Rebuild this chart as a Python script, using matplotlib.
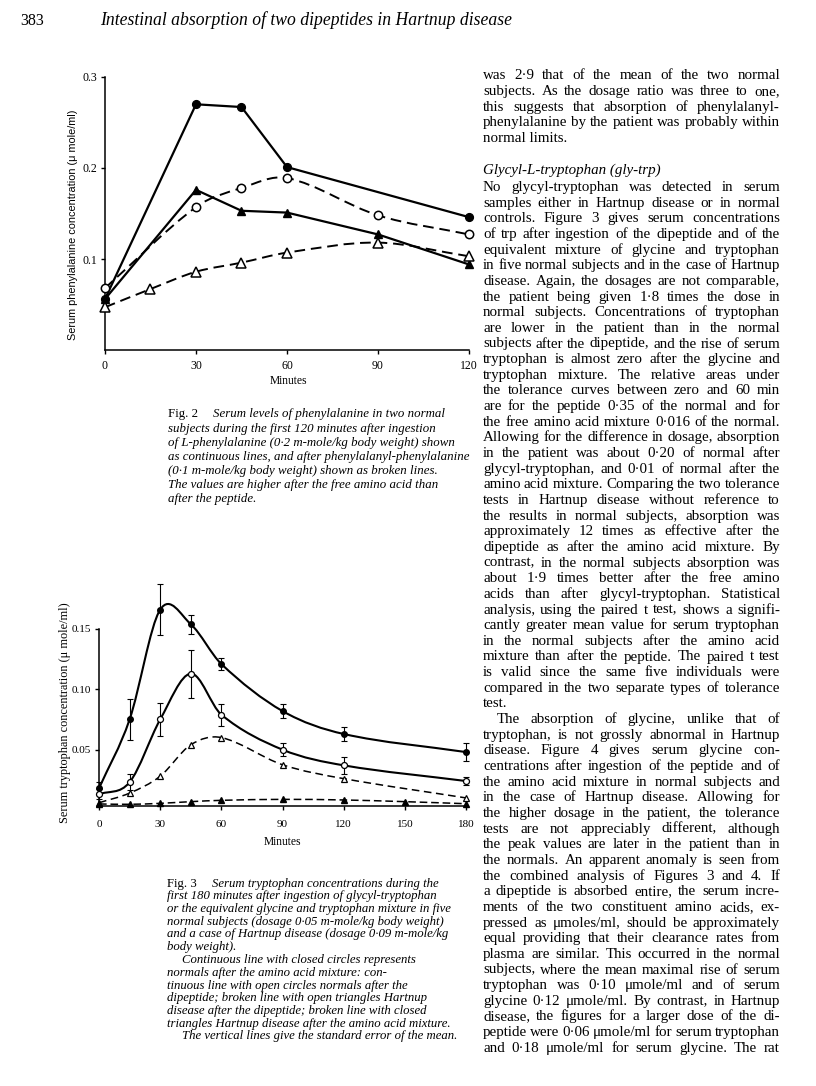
import matplotlib
matplotlib.use("Agg")
import matplotlib.pyplot as plt
from matplotlib.path import Path
from matplotlib.patches import PathPatch
from matplotlib.font_manager import FontProperties
import numpy as np

# ------------------------------------------------------------------ data
# Fig. 2  serum phenylalanine (umole/ml) vs minutes
phe_xticks = [0, 30, 60, 90, 120]
phe_yticks = [0.1, 0.2, 0.3]
phe_closed_circle_x = [0, 30, 45, 60, 120]
phe_closed_circle_y = [0.056, 0.270, 0.267, 0.201, 0.146]
phe_open_circle_x = [0, 30, 45, 60, 90, 120]
phe_open_circle_y = [0.068, 0.157, 0.178, 0.189, 0.148, 0.127]
phe_closed_tri_x = [0, 30, 45, 60, 90, 120]
phe_closed_tri_y = [0.056, 0.176, 0.153, 0.151, 0.127, 0.094]
phe_open_tri_x = [0, 15, 30, 45, 60, 90, 120]
phe_open_tri_y = [0.047, 0.067, 0.086, 0.096, 0.107, 0.118, 0.103]

# Fig. 3  serum tryptophan (umole/ml) vs minutes
trp_xticks = [0, 30, 60, 90, 120, 150, 180]
trp_yticks = [0.05, 0.10, 0.15]
trp_ytick_labels = ["0.05", "0.10", "0.15"]
trp_x = [0, 15, 30, 45, 60, 90, 120, 180]
trp_normal_aa = [0.018, 0.075, 0.166, 0.154, 0.121, 0.082, 0.063, 0.048]
trp_normal_aa_se = [0.005, 0.017, 0.021, 0.008, 0.005, 0.006, 0.0055, 0.0075]
trp_normal_pep = [0.013, 0.023, 0.075, 0.113, 0.079, 0.050, 0.037, 0.024]
trp_normal_pep_se = [0.004, 0.0065, 0.014, 0.020, 0.009, 0.0055, 0.007, 0.0035]
trp_hartnup_pep = [0.006, 0.014, 0.028, 0.054, 0.060, 0.0375, 0.026, 0.010]
trp_hartnup_aa_x = [0, 15, 30, 45, 60, 90, 120, 150, 180]
trp_hartnup_aa = [0.005, 0.0047, 0.0055, 0.0069, 0.008, 0.0088, 0.0083, 0.0069, 0.0052]

# ------------------------------------------------------------------ texts
header_num = "383"
header_title = "Intestinal absorption of two dipeptides in Hartnup disease"

phe_ylabel = "Serum phenylalanine concentration (\u03bc mole/ml)"
trp_ylabel = "Serum tryptophan concentration (\u03bc mole/ml)"
xlabel = "Minutes"

fig2_caption = [
    "Serum levels of phenylalanine in two normal",
    "subjects during the first 120 minutes after ingestion",
    "of L-phenylalanine (0\u00b72 m-mole/kg body weight) shown",
    "as continuous lines, and after phenylalanyl-phenylalanine",
    "(0\u00b71 m-mole/kg body weight) shown as broken lines.",
    "The values are higher after the free amino acid than",
    "after the peptide.",
]
fig3_caption = [
    "Serum tryptophan concentrations during the",
    "first 180 minutes after ingestion of glycyl-tryptophan",
    "or the equivalent glycine and tryptophan mixture in five",
    "normal subjects (dosage 0\u00b705 m-mole/kg body weight)",
    "and a case of Hartnup disease (dosage 0\u00b709 m-mole/kg",
    "body weight).",
    "Continuous line with closed circles represents",
    "normals after the amino acid mixture: con-",
    "tinuous line with open circles normals after the",
    "dipeptide; broken line with open triangles Hartnup",
    "disease after the dipeptide; broken line with closed",
    "triangles Hartnup disease after the amino acid mixture.",
    "The vertical lines give the standard error of the mean.",
]
fig3_indented = [6, 12]

body_top = [
    "was 2\u00b79 that of the mean of the two normal",
    "subjects. As the dosage ratio was three to one,",
    "this suggests that absorption of phenylalanyl-",
    "phenylalanine by the patient was probably within",
    "normal limits.",
]
body_heading = "Glycyl-L-tryptophan (gly-trp)"
body_main = [
    "No glycyl-tryptophan was detected in serum",
    "samples either in Hartnup disease or in normal",
    "controls. Figure 3 gives serum concentrations",
    "of trp after ingestion of the dipeptide and of the",
    "equivalent mixture of glycine and tryptophan",
    "in five normal subjects and in the case of Hartnup",
    "disease. Again, the dosages are not comparable,",
    "the patient being given 1\u00b78 times the dose in",
    "normal subjects. Concentrations of tryptophan",
    "are lower in the patient than in the normal",
    "subjects after the dipeptide, and the rise of serum",
    "tryptophan is almost zero after the glycine and",
    "tryptophan mixture. The relative areas under",
    "the tolerance curves between zero and 60 min",
    "are for the peptide 0\u00b735 of the normal and for",
    "the free amino acid mixture 0\u00b7016 of the normal.",
    "Allowing for the difference in dosage, absorption",
    "in the patient was about 0\u00b720 of normal after",
    "glycyl-tryptophan, and 0\u00b701 of normal after the",
    "amino acid mixture. Comparing the two tolerance",
    "tests in Hartnup disease without reference to",
    "the results in normal subjects, absorption was",
    "approximately 12 times as effective after the",
    "dipeptide as after the amino acid mixture. By",
    "contrast, in the normal subjects absorption was",
    "about 1\u00b79 times better after the free amino",
    "acids than after glycyl-tryptophan. Statistical",
    "analysis, using the paired t test, shows a signifi-",
    "cantly greater mean value for serum tryptophan",
    "in the normal subjects after the amino acid",
    "mixture than after the peptide. The paired t test",
    "is valid since the same five individuals were",
    "compared in the two separate types of tolerance",
    "test.",
    "The absorption of glycine, unlike that of",
    "tryptophan, is not grossly abnormal in Hartnup",
    "disease. Figure 4 gives serum glycine con-",
    "centrations after ingestion of the peptide and of",
    "the amino acid mixture in normal subjects and",
    "in the case of Hartnup disease. Allowing for",
    "the higher dosage in the patient, the tolerance",
    "tests are not appreciably different, although",
    "the peak values are later in the patient than in",
    "the normals. An apparent anomaly is seen from",
    "the combined analysis of Figures 3 and 4. If",
    "a dipeptide is absorbed entire, the serum incre-",
    "ments of the two constituent amino acids, ex-",
    "pressed as \u03bcmoles/ml, should be approximately",
    "equal providing that their clearance rates from",
    "plasma are similar. This occurred in the normal",
    "subjects, where the mean maximal rise of serum",
    "tryptophan was 0\u00b710 \u03bcmole/ml and of serum",
    "glycine 0\u00b712 \u03bcmole/ml. By contrast, in Hartnup",
    "disease, the figures for a larger dose of the di-",
    "peptide were 0\u00b706 \u03bcmole/ml for serum tryptophan",
    "and 0\u00b718 \u03bcmole/ml for serum glycine. The rat",
]
body_main_ragged = [33]      # "test."
body_main_indent = [34]      # "The absorption ..."

# ------------------------------------------------------------------ figure
W, H = 816, 1086
fig = plt.figure(figsize=(W / 100, H / 100), dpi=100)
fig.patch.set_facecolor("white")
renderer = fig.canvas.get_renderer()

SERIF = "Liberation Serif"
SANS = "Liberation Sans"


def fx(x):
    return x / W


def fy(y):
    return 1 - y / H


def fp_(family=SERIF, size=10, style="normal"):
    return FontProperties(family=family, size=size, style=style)


def tw(s, fp):
    return renderer.get_text_width_height_descent(s, fp, ismath=False)[0]


def fit_size(s, target, family=SERIF, style="normal"):
    w = tw(s, fp_(family, 10, style))
    return 10 * target / w


def smooth_path(x, y):
    x = np.asarray(x, float)
    y = np.asarray(y, float)
    n = len(x)
    m = np.empty(n)
    m[0] = (y[1] - y[0]) / (x[1] - x[0])
    m[-1] = (y[-1] - y[-2]) / (x[-1] - x[-2])
    for i in range(1, n - 1):
        m[i] = (y[i + 1] - y[i - 1]) / (x[i + 1] - x[i - 1])
    verts = [(x[0], y[0])]
    codes = [Path.MOVETO]
    for i in range(n - 1):
        h = x[i + 1] - x[i]
        verts += [(x[i] + h / 3, y[i] + m[i] * h / 3),
                  (x[i + 1] - h / 3, y[i + 1] - m[i + 1] * h / 3),
                  (x[i + 1], y[i + 1])]
        codes += [Path.CURVE4] * 3
    return Path(verts, codes)


def add_curve(ax, x, y, lw, ls):
    patch = PathPatch(smooth_path(x, y), fill=False, edgecolor="black",
                      lw=lw, linestyle=ls, transform=ax.transData,
                      clip_on=False, zorder=2, capstyle="butt")
    ax.add_patch(patch)


def style_axes(ax, fs):
    for s in ("top", "right"):
        ax.spines[s].set_visible(False)
    for s in ("left", "bottom"):
        ax.spines[s].set_linewidth(1.1)
    ax.tick_params(direction="out", length=3, width=1.0, pad=2.5,
                   labelsize=fs)
    for lab in ax.get_xticklabels() + ax.get_yticklabels():
        lab.set_fontfamily(SERIF)
    ax.set_facecolor("none")


# ---------------- Fig. 2 axes
ax1 = fig.add_axes([fx(105), fy(350), 364 / W, 273 / H])
ax1.set_xlim(0, 120)
ax1.set_ylim(0, 0.3)
ax1.set_xticks(phe_xticks)
ax1.set_yticks(phe_yticks)
ax1.set_yticklabels([f"{v:.1f}" for v in phe_yticks])
style_axes(ax1, 8.5)
ax1.tick_params(axis="x", pad=4)

ax1.plot(phe_closed_circle_x, phe_closed_circle_y, color="black", lw=1.6,
         marker="o", ms=5.6, mfc="black", mec="black", clip_on=False, zorder=3)
ax1.plot(phe_closed_tri_x, phe_closed_tri_y, color="black", lw=1.6,
         marker="^", ms=6.2, mfc="black", mec="black", clip_on=False, zorder=3)
add_curve(ax1, phe_open_circle_x, phe_open_circle_y, 1.4, (0, (5.5, 3)))
add_curve(ax1, phe_open_tri_x, phe_open_tri_y, 1.4, (0, (5.5, 3)))
ax1.plot(phe_open_circle_x, phe_open_circle_y, ls="none", marker="o", ms=6,
         mfc="white", mec="black", mew=1.1, clip_on=False, zorder=4)
ax1.plot(phe_open_tri_x, phe_open_tri_y, ls="none", marker="^", ms=6.8,
         mfc="white", mec="black", mew=1.1, clip_on=False, zorder=4)

fig.text(fx(288), fy(381), xlabel, family=SERIF, size=8.3,
         ha="center", va="center")
s = fit_size(phe_ylabel, 230, SANS)
fig.text(fx(73), fy(225), phe_ylabel, family=SANS, size=s, rotation=90,
         ha="center", va="center")

# ---------------- Fig. 3 axes
ybot = 0.0033
ax2 = fig.add_axes([fx(99), fy(806), 367 / W, 177 / H])
ax2.set_xlim(0, 180)
ax2.set_ylim(ybot, 0.15)
ax2.set_xticks(trp_xticks)
ax2.set_yticks(trp_yticks)
ax2.set_yticklabels(trp_ytick_labels)
style_axes(ax2, 8.0)
ax2.tick_params(axis="x", pad=7)

add_curve(ax2, trp_x, trp_normal_aa, 1.5, "-")
add_curve(ax2, trp_x, trp_normal_pep, 1.5, "-")
add_curve(ax2, trp_x, trp_hartnup_pep, 1.1, (0, (5, 3)))
add_curve(ax2, trp_hartnup_aa_x, trp_hartnup_aa, 1.1, (0, (5, 2.5)))

for yv, se in ((trp_normal_aa, trp_normal_aa_se),
               (trp_normal_pep, trp_normal_pep_se)):
    eb = ax2.errorbar(trp_x, yv, yerr=se, fmt="none", ecolor="black",
                      elinewidth=0.8, capsize=2.4, capthick=0.8, zorder=3)
    for a in eb.get_children():
        a.set_clip_on(False)

ax2.plot(trp_x, trp_normal_aa, ls="none", marker="o", ms=4.0, mfc="black",
         mec="black", clip_on=False, zorder=5)
ax2.plot(trp_x, trp_normal_pep, ls="none", marker="o", ms=4.3, mfc="white",
         mec="black", mew=0.9, clip_on=False, zorder=5)
ax2.plot(trp_x, trp_hartnup_pep, ls="none", marker="^", ms=4.6, mfc="white",
         mec="black", mew=0.9, clip_on=False, zorder=5)
ax2.plot(trp_hartnup_aa_x, trp_hartnup_aa, ls="none", marker="^", ms=4.6,
         mfc="black", mec="black", clip_on=False, zorder=5)

fig.text(fx(282), fy(842), xlabel, family=SERIF, size=8.3,
         ha="center", va="center")
s = fit_size(trp_ylabel, 220, SERIF)
fig.text(fx(65), fy(713), trp_ylabel, family=SERIF, size=s, rotation=90,
         ha="center", va="center")

# ---------------- header
fig.text(fx(20), fy(25), header_num, family=SERIF, size=11.5,
         ha="left", va="baseline")
s = fit_size(header_title, 412, SERIF, "italic")
fig.text(fx(100), fy(25), header_title, family=SERIF, size=s, style="italic",
         ha="left", va="baseline")

# ---------------- captions
cap_size2 = fit_size(fig2_caption[1], 268, SERIF, "italic")
for i, line in enumerate(fig2_caption):
    yb = 414 + 14.1 * i + 3.5
    if i == 0:
        fig.text(fx(168), fy(yb), "Fig. 2", family=SERIF, size=cap_size2,
                 ha="left", va="baseline")
        x0 = 213
    else:
        x0 = 168
    fig.text(fx(x0), fy(yb), line, family=SERIF, size=cap_size2,
             style="italic", ha="left", va="baseline")

cap_size3 = fit_size(fig3_caption[2], 286, SERIF, "italic")
for i, line in enumerate(fig3_caption):
    yb = 883 + 12.75 * i + 3.5
    if i == 0:
        fig.text(fx(167), fy(yb), "Fig. 3", family=SERIF, size=cap_size3,
                 ha="left", va="baseline")
        x0 = 212
    elif i in fig3_indented:
        x0 = 182
    else:
        x0 = 167
    fig.text(fx(x0), fy(yb), line, family=SERIF, size=cap_size3,
             style="italic", ha="left", va="baseline")

# ---------------- body text (justified column)
COL0, COL1 = 483, 780


def natural_width(line, fp):
    words = line.split()
    return sum(tw(w, fp) for w in words) + (len(words) - 1) * tw(" ", fp) * 0.85


fp10 = fp_(SERIF, 10)
maxw = max(natural_width(l, fp10) for l in body_top[:-1] + body_main)
body_size = 10 * (COL1 - COL0) / maxw
body_fp = fp_(SERIF, body_size)


def put_line(line, yb, fp, justify, indent=0):
    if not justify:
        fig.text(fx(COL0 + indent), fy(yb), line, fontproperties=fp,
                 ha="left", va="baseline")
        return
    words = line.split()
    ws = [tw(w, fp) for w in words]
    gap = (COL1 - COL0 - indent - sum(ws)) / (len(words) - 1)
    x = COL0 + indent
    for w, wd in zip(words, ws):
        fig.text(fx(x), fy(yb), w, fontproperties=fp, ha="left",
                 va="baseline")
        x += wd + gap


for i, line in enumerate(body_top):
    put_line(line, 75 + 15.8 * i + 4, body_fp, i < len(body_top) - 1)

put_line(body_heading, 170 + 4, fp_(SERIF, body_size, "italic"), False)

for j, line in enumerate(body_main):
    yb = 187 + 15.65 * j + 4
    put_line(line, yb, body_fp, j not in body_main_ragged,
             indent=14 if j in body_main_indent else 0)

fig.savefig("out.png", dpi=100, facecolor="white")
